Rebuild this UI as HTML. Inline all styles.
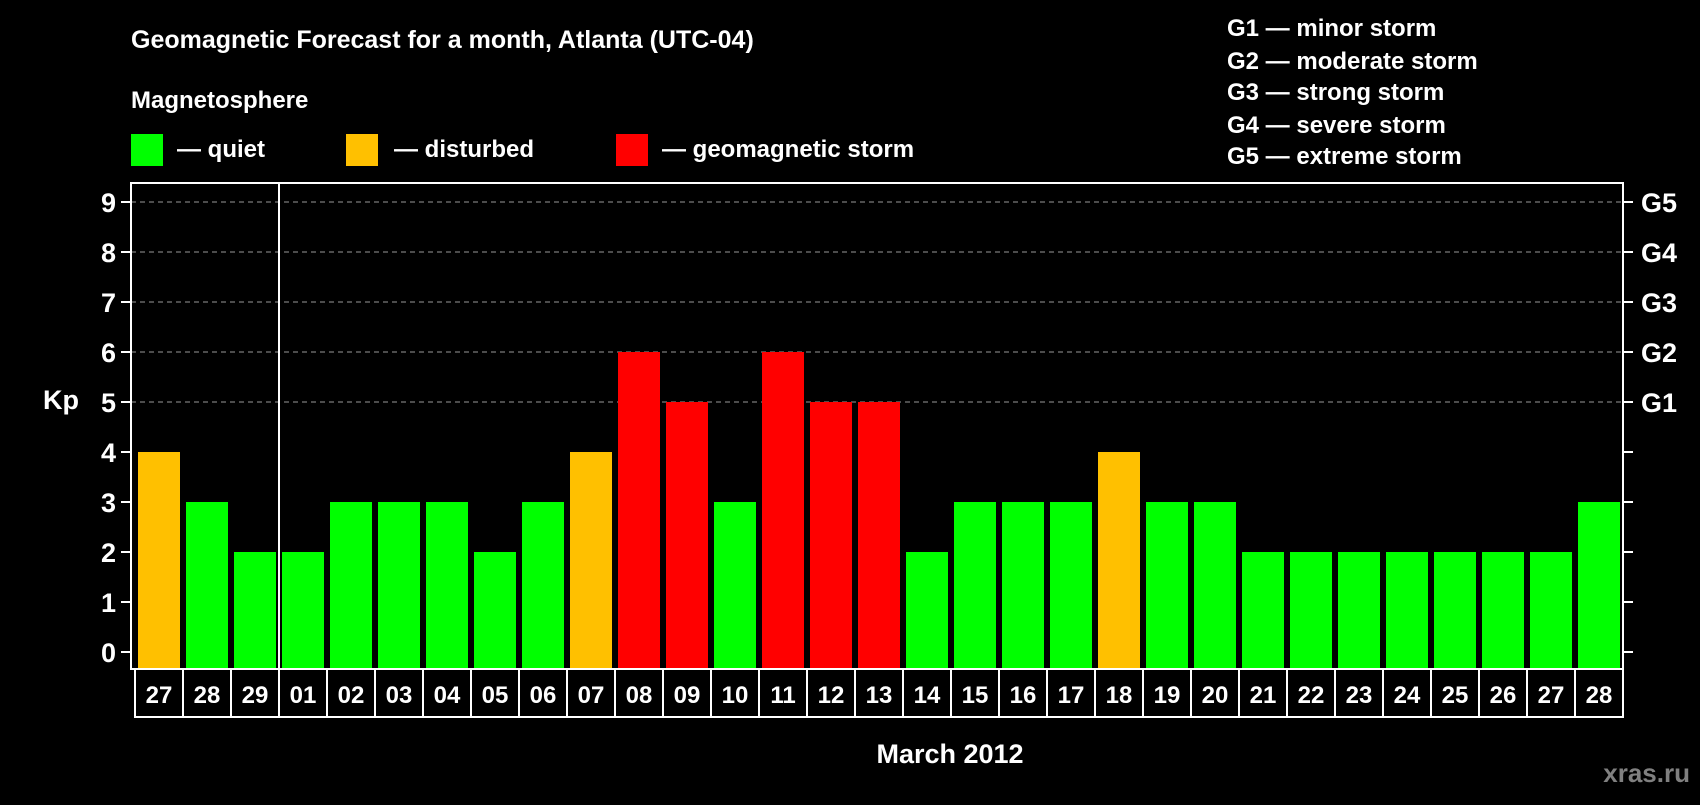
<!DOCTYPE html>
<html><head><meta charset="utf-8"><style>
body{margin:0;background:#000;width:1700px;height:800px;overflow:hidden}
text{font-family:"Liberation Sans",Arial,sans-serif;font-weight:bold;fill:#fff}
</style></head><body>
<svg id="chart" width="1700" height="800">
<text x="131" y="48" font-size="25">Geomagnetic Forecast for a month, Atlanta (UTC-04)</text>
<text x="131" y="108" font-size="24">Magnetosphere</text>
<rect x="131" y="134" width="32" height="32" fill="#00ff00"/>
<text x="177" y="157" font-size="24">— quiet</text>
<rect x="346" y="134" width="32" height="32" fill="#ffc000"/>
<text x="394" y="157" font-size="24">— disturbed</text>
<rect x="616" y="134" width="32" height="32" fill="#ff0000"/>
<text x="662" y="157" font-size="24">— geomagnetic storm</text>
<g font-size="24">
<text x="1227" y="36">G1 — minor storm</text>
<text x="1227" y="69">G2 — moderate storm</text>
<text x="1227" y="100">G3 — strong storm</text>
<text x="1227" y="133">G4 — severe storm</text>
<text x="1227" y="164">G5 — extreme storm</text>
</g>
<text x="43" y="409" font-size="27">Kp</text>
<text x="950" y="763" font-size="27" text-anchor="middle">March 2012</text>
<text x="1690" y="782" font-size="26" text-anchor="end" style="fill:#808080">xras.ru</text>
<g id="plot"></g>
</svg>
<script>
const days=["27","28","29","01","02","03","04","05","06","07","08","09","10","11","12","13","14","15","16","17","18","19","20","21","22","23","24","25","26","27","28"];
const kp=[4,3,2,2,3,3,3,2,3,4,6,5,3,6,5,5,2,3,3,3,4,3,3,2,2,2,2,2,2,2,3];
const yTicks=[0,1,2,3,4,5,6,7,8,9];
const gLabels=["G1","G2","G3","G4","G5"];
const gLevels=[5,6,7,8,9];
const L=131,R=1623,T=183,B=669,pitch=48;
const y=v=>652-50*v;
const xb=i=>138+pitch*i;
const col=v=>v>=5?"#ff0000":(v>=4?"#ffc000":"#00ff00");
const ns="http://www.w3.org/2000/svg",g=document.getElementById('plot');
function mk(t,a,txt){const e=document.createElementNS(ns,t);for(const k in a)e.setAttribute(k,a[k]);if(txt!==undefined)e.textContent=txt;g.appendChild(e);return e;}
gLevels.forEach((v,i)=>{const e=mk('line',{x1:L,x2:R,y1:y(v),y2:y(v),stroke:'#999','stroke-dasharray':'5,4','stroke-width':1});


const t=mk('text',{x:1641,y:y(v)+10,'font-size':27},gLabels[i]);

});
kp.forEach((v,i)=>{const r=mk('rect',{x:xb(i),y:y(v),width:42,height:B-y(v),fill:col(v)});


const c=mk('rect',{x:135+pitch*i,y:B,width:pitch,height:48,fill:'none',stroke:'#fff','stroke-width':2});


const t=mk('text',{x:135+pitch*i+24,y:B+34,'font-size':24,'text-anchor':'middle'},days[i]);

});
yTicks.forEach(v=>{const a=mk('line',{x1:L-10,x2:L,y1:y(v),y2:y(v),stroke:'#fff','stroke-width':2});


const b=mk('line',{x1:R,x2:R+10,y1:y(v),y2:y(v),stroke:'#fff','stroke-width':2});


const t=mk('text',{x:116,y:y(v)+10,'font-size':27,'text-anchor':'end'},String(v));

});
const f=mk('rect',{x:L,y:T,width:R-L,height:B-T,fill:'none',stroke:'#fff','stroke-width':2});


const m=mk('line',{x1:279,x2:279,y1:T,y2:B,stroke:'#fff','stroke-width':2});


</script>
</body></html>
